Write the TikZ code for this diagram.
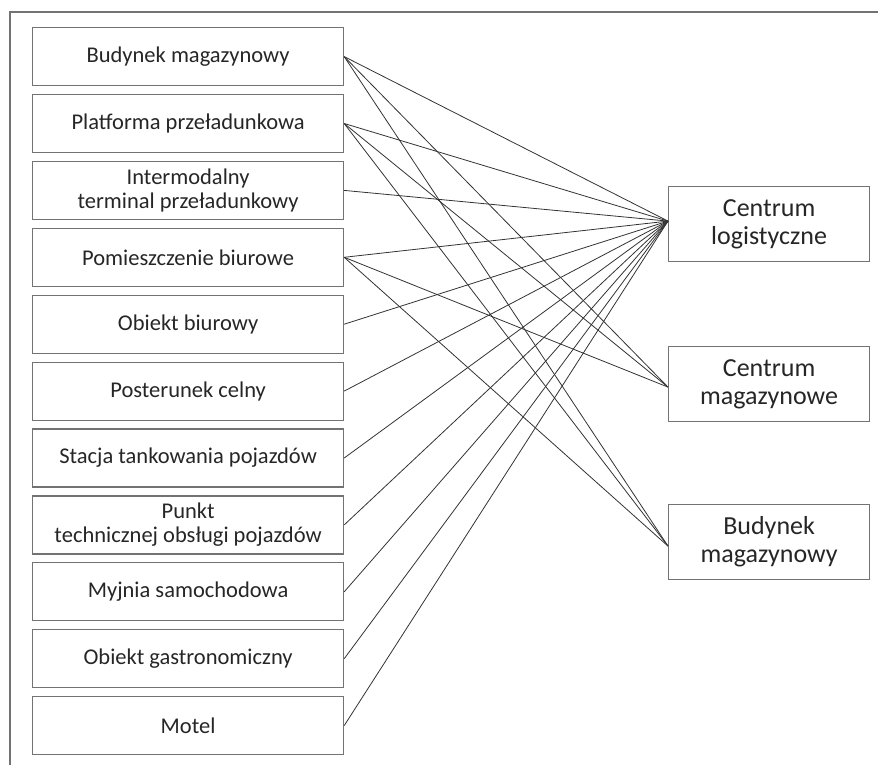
\documentclass[tikz,border=0pt]{standalone}
\usepackage{fontspec}
\setmainfont{Carlito}
\begin{document}
\begin{tikzpicture}[x=1pt,y=-1pt,
  lbox/.style={draw=black!55,line width=1.2pt,rectangle,minimum width=311pt,minimum height=58pt,inner sep=0pt,align=center,anchor=north west,font=\fontsize{22.5}{24}\selectfont,text=black!85},
  rbox/.style={draw=black!55,line width=1.2pt,rectangle,minimum width=201pt,minimum height=75pt,inner sep=0pt,align=center,anchor=north west,font=\fontsize{26}{28}\selectfont,text=black!85},
  conn/.style={draw=black!80,line width=0.8pt}]
\useasboundingbox (0,0) rectangle (878,765);
\draw[black!55,line width=1.2pt] (10,765) -- (10,12) -- (878,12);
\node[lbox] (L1) at (32,27) {Budynek magazynowy};
\node[lbox] (L2) at (32,93.9) {Platforma przeładunkowa};
\node[lbox] (L3) at (32,160.8) {Intermodalny\\terminal przeładunkowy};
\node[lbox] (L4) at (32,227.7) {Pomieszczenie biurowe};
\node[lbox] (L5) at (32,294.6) {Obiekt biurowy};
\node[lbox] (L6) at (32,361.5) {Posterunek celny};
\node[lbox] (L7) at (32,428.4) {Stacja tankowania pojazdów};
\node[lbox] (L8) at (32,495.3) {Punkt\\technicznej obsługi pojazdów};
\node[lbox] (L9) at (32,562.2) {Myjnia samochodowa};
\node[lbox] (L10) at (32,629.1) {Obiekt gastronomiczny};
\node[lbox] (L11) at (32,696) {Motel};
\node[rbox] (R1) at (668,186) {Centrum\\logistyczne};
\node[rbox] (R2) at (668,346) {Centrum\\magazynowe};
\node[rbox] (R3) at (668,504) {Budynek\\magazynowy};
\coordinate (P1) at ([yshift=3pt]R1.west);
\coordinate (P2) at ([yshift=-3pt]R2.west);
\coordinate (P3) at ([yshift=-4pt]R3.west);
\foreach \i in {1,...,11} {\draw[conn] (L\i.east) -- (P1);}
\foreach \i in {1,2,4} {\draw[conn] (L\i.east) -- (P2); \draw[conn] (L\i.east) -- (P3);}
\end{tikzpicture}
\end{document}
